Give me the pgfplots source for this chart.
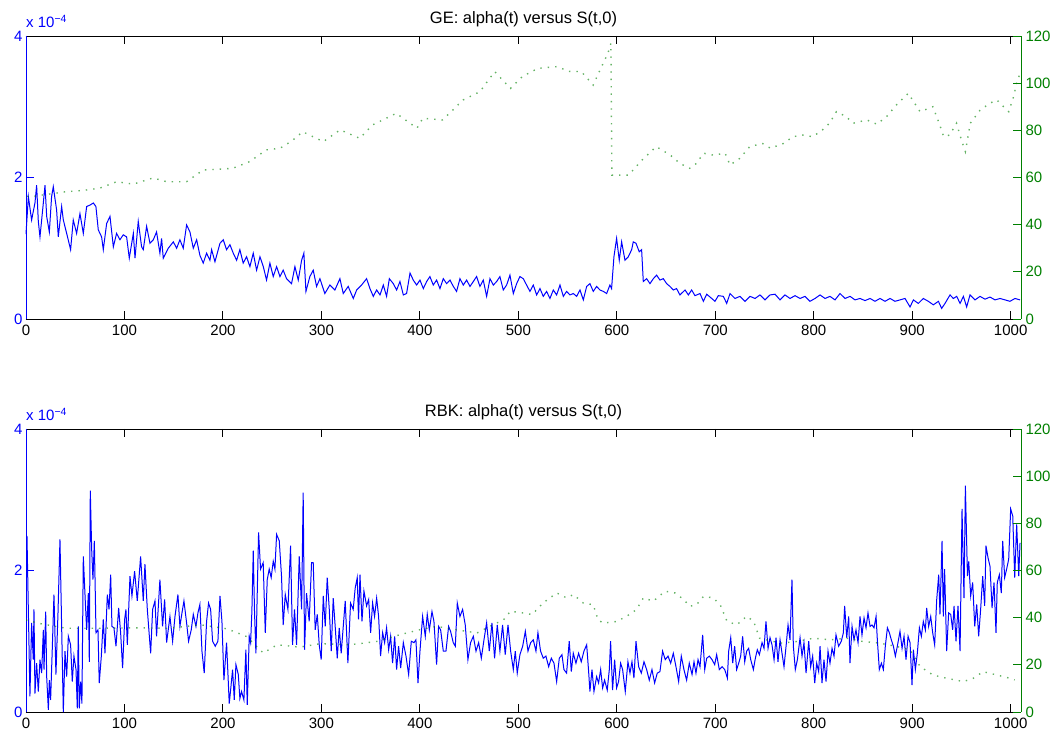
\documentclass[border=0pt]{standalone}
\usepackage{pgfplots}
\pgfplotsset{compat=1.18}
\usepackage{fontspec}
\setmainfont{Liberation Sans}
\definecolor{mblue}{rgb}{0,0,1}
\definecolor{mgreen}{rgb}{0,0.5,0}
\newcommand{\fs}{\fontsize{15}{18}\selectfont}
\newcommand{\ft}{\fontsize{16.5}{19}\selectfont}
\pgfplotsset{
  ml/.style={scale only axis, width=995pt, height=283pt, xmin=0, xmax=1010.5,
    tick align=inside, major tick length=8pt,
    /pgf/number format/assume math mode=true,
    /pgf/number format/1000 sep={},
    tick label style={font=\fs},
    axis line style={line width=0.9pt},
    tick style={line width=0.9pt},
    every axis title/.style={at={(0.5,1)}, anchor=base, yshift=12pt, font=\ft},
  },
  lefty/.style={ml, axis y line*=left, ymin=0, ymax=4, ytick={0,2,4},
    xtick={0,100,...,1000}, clip=false,
    xticklabel style={yshift=-2pt},
    y axis line style={mblue}, ytick style={mblue}, yticklabel style={mblue},
    xtick style={black}},
  righty/.style={ml, axis y line*=right, axis x line=none, ymin=0, ymax=120,
    ytick={0,20,...,120}, y axis line style={mgreen}, ytick style={mgreen},
    yticklabel style={mgreen, xshift=1pt}},
  blueline/.style={mblue, line width=1pt, no markers},
  greendots/.style={mgreen, line width=1.4pt, dash pattern=on 1.4pt off 6pt, no markers, opacity=0.6},
}
\newcommand{\scalelabel}{\node[anchor=base west, mblue, font=\fs, inner sep=0pt, yshift=8pt] at (rel axis cs:0,1) {x 10\textsuperscript{−4}};}
\begin{document}
\begin{tikzpicture}
\path[use as bounding box] (-26pt,-29pt) rectangle (1036pt,712pt);

% GE
\begin{axis}[lefty, at={(0,393pt)}, title={GE: alpha(t) versus S(t,0)}]
\addplot[blueline] coordinates {
(0,1.20)(2.4,1.73)(5.7,1.40)(9.1,1.64)(10.8,1.89)(12.5,1.38)(14.2,1.16)(17.6,1.64)(19.3,1.89)(21,1.45)(23.7,1.23)(26,1.73)(27.7,1.87)(31.1,1.54)(32.8,1.16)(36.2,1.59)(37.9,1.40)(41.3,1.21)(45.3,0.98)(48,1.40)(51.4,1.21)(54.8,1.49)(58.2,1.21)(61.6,1.59)(65,1.61)(68.4,1.64)(71,1.59)(73.4,1.26)(76.8,1.16)(78.5,0.98)(81.9,1.35)(85.3,1.45)(88.7,1.02)(92,1.21)(95.4,1.12)(98.8,1.19)(102.2,1.16)(104.9,0.86)(109,1.21)(110.7,0.86)(114,1.38)(117.4,1.02)(119.1,0.98)(122.5,1.31)(125.9,1.07)(129.3,1.12)(132.6,1.23)(136,0.93)(137.7,1.14)(139.4,0.86)(144.5,1.00)(149.6,1.09)(153,1.00)(156.3,1.12)(159.7,1.00)(163.1,1.33)(166.5,1.23)(169.9,1.00)(173.3,1.12)(176.6,0.90)(180,0.79)(183.4,0.93)(186.8,0.83)(188.5,0.98)(191.9,0.81)(197,1.07)(200.3,1.12)(203.7,0.98)(207.1,1.05)(210.5,0.93)(213.9,0.83)(217.2,0.98)(220.6,0.79)(224,0.88)(227.4,0.74)(230.8,0.93)(234.2,0.69)(237.6,0.88)(241,0.74)(244.3,0.55)(247.7,0.79)(251.1,0.60)(254.5,0.74)(257.9,0.60)(261.2,0.69)(264.6,0.57)(269.7,0.50)(273.1,0.74)(276.5,0.55)(279.9,0.83)(282.2,0.93)(284.3,0.39)(288.3,0.60)(291.7,0.69)(295.1,0.46)(298.5,0.57)(303.5,0.36)(308.6,0.48)(313.7,0.41)(318.8,0.57)(322.2,0.36)(327.2,0.46)
(332.4,0.29)(335.8,0.41)(340.8,0.48)(345.9,0.57)(349.3,0.43)(352.7,0.32)(356.1,0.41)(359.5,0.34)(362.9,0.48)(366.2,0.32)(369,0.57)(373,0.50)(376.4,0.41)(379.8,0.53)(383.2,0.34)(386.5,0.36)(390,0.65)(393.3,0.55)(396.7,0.48)(400.1,0.55)(403.5,0.43)(406.9,0.53)(410.2,0.60)(413.6,0.48)(417,0.55)(420.4,0.43)(423.8,0.57)(427.2,0.50)(430.6,0.55)(434,0.46)(437.3,0.39)(440.7,0.57)(444.1,0.48)(447.5,0.55)(450.9,0.46)(454.3,0.53)(457.6,0.60)(461,0.46)(464.4,0.55)(467.8,0.32)(471.2,0.57)(474.6,0.48)(478,0.53)(481.3,0.60)(484.7,0.41)(488.1,0.48)(491.5,0.62)(494.9,0.36)(498.3,0.50)(501.6,0.60)(505,0.57)(508.4,0.48)(511.8,0.39)(515.2,0.48)(518.6,0.34)(522,0.43)(525.3,0.32)(528.7,0.39)(532.1,0.29)(535.5,0.41)(538.9,0.34)(542.3,0.48)(545.7,0.32)(549,0.39)(552.4,0.34)(555.8,0.36)(559.2,0.32)(562.6,0.41)(566,0.27)(569.4,0.46)(572.7,0.50)(576.1,0.39)(579.5,0.46)(582.9,0.41)(586.3,0.39)(589.7,0.36)(593,0.48)(594.7,0.43)(597.1,0.88)(599.8,1.14)(602.5,0.83)(604.9,1.09)(608.3,0.83)(611.7,0.88)(615.1,0.98)(616.7,1.09)(619.5,1.07)(622.8,0.95)(625.2,0.98)(626.9,0.53)(630.3,0.57)(633.7,0.50)(637.1,0.57)(640.4,0.62)(643.8,0.55)(647.2,0.57)(650.6,0.50)(654,0.46)(657.4,0.41)(660.7,0.43)(664.1,0.34)
(669.3,0.41)(672.7,0.34)(676,0.41)(679.4,0.33)(684.5,0.36)(687.9,0.25)(691.3,0.35)(696.4,0.29)(699.7,0.25)(703.1,0.33)(708.2,0.32)(711.6,0.22)(715,0.36)(720,0.29)(725.1,0.32)(730.2,0.25)(735.3,0.32)(740.4,0.29)(745.4,0.34)(750.5,0.27)(755.6,0.34)(760.7,0.35)(765.8,0.27)(770.8,0.34)(775.9,0.29)(781,0.33)(786.1,0.29)(791.1,0.32)(796.2,0.25)(801.3,0.29)(806.4,0.34)(811.5,0.29)(816.5,0.32)(821.6,0.27)(826.7,0.36)(831.8,0.29)(836.9,0.32)(841.9,0.27)(847,0.29)(852.1,0.26)(857.2,0.29)(862.2,0.25)(867.3,0.29)(872.4,0.25)(877.5,0.29)(882.5,0.25)(887.6,0.27)(892.7,0.29)(897.8,0.17)(901.2,0.27)(906.2,0.22)(911.3,0.29)(916.4,0.25)(921.5,0.20)(926.6,0.25)(929.9,0.15)(933.3,0.22)(938.4,0.34)(941.8,0.29)(945.2,0.32)(948.6,0.22)(952,0.32)(955.3,0.17)(958.7,0.34)(963.8,0.27)(968.9,0.32)(973.9,0.28)(979,0.31)(984.1,0.27)(989.2,0.29)(994.3,0.27)(999.3,0.25)(1004.4,0.29)(1009.5,0.27)
};
\scalelabel
\end{axis}
\begin{axis}[righty, at={(0,393pt)}]
\addplot[greendots] coordinates {
(1,52)(7,52)(24,53)(41,54)(58,54.5)(75,55.5)(92,58.2)(109,57.2)(129,59.8)(143,58.2)(163,58.2)(180,63.2)(195,63.5)(210,63.9)(227,66.7)(244,71.7)(258,72.4)(270,75.5)(281,79.4)(302,75.2)(319,80.2)(339,76.6)(352,82.3)(376,87.2)(397,80.9)(403,85.1)(423,84.4)(444,92.9)(461,96.4)(476,104.9)(492,97.8)(504,102.8)(520,106.3)(539,107)(552,105)(564,104.9)(576,99.2)(583,105.6)(591,112.7)(594,116.9)(595,61)(612,61)(624,66.7)(640,73.1)(654,69.6)(664,66)(674,63.9)(681,66)(688,70.3)(698,69.5)(710,70.3)(715,65.3)(725,68.1)(735,73.1)(748,74.4)(756,72.4)(769,74.4)(779,77.3)(789,78)(799,77.3)(809,80.2)(816,83)(823,87.9)(833,85.8)(840,83)(854,84.4)(864,82.6)(874,85.8)(884,90.8)(896,95.7)(908,87.9)(921,90)(928,82.3)(932,77.3)(938,78)(945,83)(950,75.9)(954,71)(959,83)(969,88.6)(979,91.5)(986,92.9)(992,90.3)(998,87.9)(1003,94.3)(1006,100)(1009,103.5)
};
\end{axis}

% RBK
\begin{axis}[lefty, at={(0,0)}, title={RBK: alpha(t) versus S(t,0)}]
\addplot[blueline] coordinates {
(1,2.49)(4,0.22)(5.7,1.26)(7.4,0.74)(8.1,1.45)(9.1,0.26)(10.8,0.69)(12.5,0.29)(14.2,0.74)(15.9,0.55)(17.6,1.16)(18.3,0.60)(20,1.42)(21,0.50)(22.7,0.03)(23.7,0.45)(25,0.17)(26.7,0.90)(28.4,1.66)(30.4,0.53)(32.5,1.40)(34.5,2.44)(36.2,1.21)(37.9,0.0)(39.6,0.86)(41.3,0.50)(43,1.07)(45.3,0.95)(47,0.43)(48.7,0.79)(50.8,0.60)(52.1,0.05)(53.1,1.21)(54.1,0.05)(55.5,0.43)(56.8,0.12)(58.2,2.20)(60.2,1.57)(61.6,1.16)(63.3,1.68)(64.3,0.71)(65.3,3.13)(66.7,2.30)(68,1.87)(69.4,2.42)(71.1,1.12)(73.1,1.16)(74.4,0.41)(76.5,0.79)(78.5,1.31)(80.2,0.83)(82.6,1.66)(84.3,1.45)(86,1.94)(87.3,1.21)(89.3,1.19)(91.4,0.93)(94.1,1.47)(96.1,1.12)(98.1,0.62)(100.2,1.31)(101.5,1.45)(102.9,0.95)(105.6,1.92)(107.6,1.64)(110.3,1.99)(113,1.57)(116.4,2.20)(119.1,1.57)(120.8,2.09)(123.2,1.45)(126.6,0.83)(128.6,1.45)(131,1.57)(132.6,1.07)(136,1.87)(138.7,1.21)(140.8,1.59)(142.8,0.98)(146.2,1.35)(148.9,1.00)(151.3,1.35)(154.3,1.66)(156.3,1.21)(158.4,1.40)(160.4,1.57)(163.1,1.26)(165.1,1.00)(167.8,1.16)(169.9,1.38)(172.6,1.21)(174.6,1.40)(176.6,1.52)(178.7,0.86)(181,0.55)(183.4,1.28)(185.4,1.54)(187.5,1.45)(189.5,1.00)(192.2,0.93)(194.9,1.00)(197,1.64)(199,1.28)(201,0.45)(203.7,0.98)(206.4,0.12)(207.8,0.31)(209.8,0.60)(211.5,0.17)(213.2,0.67)(215.6,0.53)(217.2,0.19)(218.9,0.29)(221.3,0.17)(223.3,0.88)(224.7,0.10)(226.7,1.07)(228.1,0.98)(229.4,1.42)(230.8,2.28)(232.1,1.40)(233.5,0.83)(236.2,2.54)(238.2,2.02)(240.9,2.11)(243,1.12)(245,1.87)(247,2.02)(249,1.90)(251.1,2.13)(252.8,2.02)(254.5,2.51)(257.2,2.42)(259.5,1.92)(261.2,1.23)(263.3,1.66)(266,1.45)(268.7,2.35)(270.7,0.95)(272.7,1.45)(274.8,0.95)(277.5,2.20)(279.9,1.45)(281.5,3.10)(282.9,0.88)(284.9,1.68)(287.6,1.28)(290,2.11)(291.7,2.11)(293.7,1.16)(295.8,1.38)(297.8,0.95)(299.8,0.74)(301.9,1.64)(303.9,1.21)(305.9,1.90)(308,1.45)(310,0.86)(312,1.61)(314,1.21)(316.1,0.76)(318.1,1.19)(320.1,0.83)(322.2,1.21)(324.2,1.57)(326.9,0.69)(329.6,1.54)(332.3,1.45)(334.3,1.75)(336.4,1.90)(337.7,1.31)
(339.2,1.94)(341.2,1.28)(343.2,1.71)(345.9,1.50)(348,1.59)(350,1.12)(352,1.54)(354,1.35)(356.1,1.61)(358.1,1.35)(360.1,0.79)(362.2,1.12)(364.2,0.98)(366.2,1.19)(368.3,0.88)(370.3,1.07)(372.3,0.69)(374.4,1.07)(376.4,0.60)(378.4,0.93)(380.5,0.62)(383.2,0.98)(385.9,0.79)(388.6,0.53)(391.3,1.00)(394,0.98)(396,1.02)(398.1,0.41)(400.1,0.86)(402.8,1.35)(405.5,1.07)(407.5,1.38)(409.6,1.16)(412.3,1.42)(414.3,1.28)(417,0.67)(419,1.21)(421.1,1.16)(423.8,0.86)(426.5,0.86)(429.2,1.21)(431.2,1.14)(433.9,0.98)(436,0.93)(438,1.54)(440.7,1.35)(443.4,1.45)(446.1,1.23)(448.8,0.74)(451.5,0.98)(454.3,1.07)(457,0.86)(459.7,0.98)(462.4,0.76)(465.1,1.02)(467.8,1.26)(470.5,0.86)(473.2,1.26)(475.9,0.76)(478.6,1.23)(481.3,0.86)(484,1.23)(486.7,0.81)(489.5,1.23)(492.2,0.86)(494.9,0.60)(496.9,0.86)(498.9,0.55)(501.6,0.81)(504.4,0.93)(507.1,1.14)(509.8,0.86)(512.5,0.98)(515.2,1.02)(517.9,0.86)(519.9,1.12)(522.6,0.86)(525.3,0.76)(528,0.79)(530.8,0.64)(533.5,0.76)(536.2,0.69)(538.9,0.43)(541.6,0.76)(544.3,0.81)(546.3,0.60)(549,0.55)(551.7,1.00)(553.8,0.57)(555.8,0.83)(558.5,0.69)(561.2,0.83)(563.9,0.71)(566.6,0.86)(569.4,0.95)(571.4,0.57)(572.7,0.29)(574.8,0.60)(576.8,0.29)(579.5,0.50)(581.5,0.41)(583.6,0.60)(585.6,0.34)(587.6,0.45)(590.3,0.31)(592.4,0.60)(593.7,1.00)(595.7,0.31)(597.8,0.74)(599.8,0.34)(601.8,0.43)(603.9,0.69)(605.9,0.60)(608.6,0.29)(611.3,0.71)(613.4,0.55)(615.4,0.71)(617.4,0.48)(619.5,1.00)(622.2,0.64)(624.9,0.55)(627.6,0.71)(630.3,0.60)(633,0.45)(635.7,0.60)(638.4,0.41)(641.1,0.55)(643.8,0.57)(646.5,0.86)(649.2,0.74)(652,0.79)(654.7,0.69)(657.4,0.83)(660.1,0.64)(662.8,0.43)(665.5,0.79)(668.2,0.60)(670.9,0.45)(673.6,0.69)
(676.4,0.53)(678.4,0.71)(680.4,0.55)(682.5,0.74)(684.5,0.64)(687.2,1.09)(689.3,0.60)(691.3,0.76)(694,0.79)(696.7,0.74)(699.4,0.67)(701.4,0.81)(704.1,0.60)(706.9,0.64)(709.6,0.60)(712.3,0.48)(713.6,0.86)(715.7,1.05)(717.7,0.69)(719.7,0.93)(721.7,0.60)(723.8,0.69)(725.8,0.79)(727.8,1.07)(729.9,0.71)(731.9,0.86)(733.9,0.90)(736,0.74)(738.7,0.60)(740.7,0.76)(742.7,0.88)(744.8,0.81)(747.5,0.98)(749.5,0.90)(751.5,1.28)(753.6,0.90)(755.6,1.05)(757.6,0.95)(759.7,0.74)(761.7,1.05)(763.7,0.71)(765.8,1.02)(767.8,0.83)(769.8,0.64)(771.9,0.93)(773.9,1.23)(775.9,1.02)(777.9,1.87)(779.3,0.93)(781.3,0.60)(783.4,0.74)(786.1,1.05)(788.1,0.79)(790.1,0.98)(792.2,0.55)(794.9,1.00)(796.9,0.64)(798.9,0.79)(801,0.41)(803,0.69)(805,0.57)(806.4,0.93)(808.4,0.41)(810.4,0.74)(812.5,0.43)(814.5,0.86)(816.5,0.69)(818.6,0.90)(820.6,0.79)(822.6,1.09)(825.3,0.93)(828,1.00)(830.1,1.12)(831.4,1.50)(833.5,1.05)(835.5,1.35)(836.8,0.69)(838.9,1.21)(840.9,1.02)(842.9,1.16)(845,0.98)(847,1.35)(849,1.09)(851.1,1.33)(853.1,1.19)(855.1,1.40)(857.2,1.21)(859.2,1.23)(861.2,1.19)(863.3,1.35)(864.6,1.02)(866.6,0.60)(868.7,0.69)(870.7,0.60)(872.7,0.93)(874.8,1.19)(876.8,1.12)(878.8,1.02)(880.9,0.93)(882.9,0.79)(884.9,0.93)(887.6,1.14)(889.7,0.90)(891.7,1.07)(893.7,0.74)(895.8,1.07)(897.8,0.98)(899.8,0.38)(901.2,0.88)(903.2,0.60)(905.2,0.83)(907.3,1.19)(909.3,1.07)(911.3,1.28)(913.4,1.16)(914.7,1.47)(916.7,1.21)(918.8,1.35)(920.8,1.12)(922.8,0.95)(924.9,1.59)(926.9,1.94)(928.2,1.38)(930.3,2.42)(931.6,1.35)(932.9,2.02)(935,0.86)(937,1.40)(939.1,1.38)(941.1,1.16)(942.5,1.50)(944.5,1.00)(946.5,1.50)(948.6,0.86)(950.6,2.87)(952.6,1.61)(954,3.20)(956.1,1.92)(957.4,2.13)(959.4,1.64)(961.4,1.83)(963.5,1.21)(965.5,1.52)(967.5,1.07)(969.5,1.45)(971.6,1.92)(973.6,1.50)(974.9,2.35)(977,2.18)(979,2.06)(981.1,1.47)(983.1,1.83)(985.1,1.12)(986.4,1.83)(988.5,1.94)(990.5,1.68)(991.9,2.42)(993.9,1.90)(995.9,2.02)(998,2.16)(1000,2.87)(1002.1,2.77)(1004.1,1.90)(1006.1,2.65)(1008.2,1.92)(1009.5,2.39)
};
\scalelabel
\end{axis}
\begin{axis}[righty, at={(0,0)}]
\addplot[greendots] coordinates {
(0,39)(14,37.5)(41,35.5)(75,35.5)(112,35.7)(146,35.5)(177,37)(204,35.3)(224,32)(241,25)(255,28.5)(278,27.5)(299,29)(329,28.5)(356,29.9)(380,32.8)(400,34.9)(417,36.3)(437,34.9)(458,33.5)(471,36.3)(485,39.1)(492,42.7)(505,42)(514,41.3)(525,46.2)(539,50.5)(549,48.4)(556,49.8)(566,46.2)(576,45.5)(581,39.1)(586,37.7)(600,38.4)(610,40.6)(620,43.4)(627,48.4)(637,47)(649,51.2)(659,50.5)(668,47.7)(674,44.8)(681,45.5)(688,49)(698,48.4)(705,45.5)(712,38.4)(722,37)(732,40.6)(739,38.4)(745,31.3)(766,29.2)(783,29.9)(800,31.3)(817,30.6)(833,31.3)(850,29.9)(867,29.2)(884,27.8)(898,26.4)(908,19.3)(921,15.7)(935,14.3)(952,12.9)(962,14.3)(972,17.1)(986,15.7)(999,14.3)(1004,13.6)
};
\end{axis}
\end{tikzpicture}
\end{document}
